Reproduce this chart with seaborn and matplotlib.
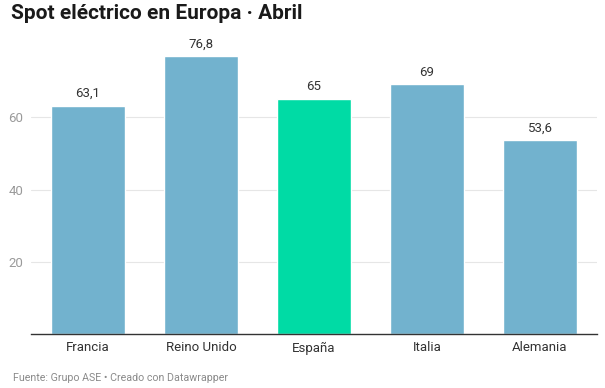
import matplotlib
matplotlib.use("Agg")
import matplotlib.pyplot as plt
import seaborn as sns
import pandas as pd

categories = ["Francia", "Reino Unido", "España", "Italia", "Alemania"]
values = [63.1, 76.8, 65, 69, 53.6]
value_labels = ["63,1", "76,8", "65", "69", "53,6"]
colors = ["#72b2ce", "#72b2ce", "#00dba5", "#72b2ce", "#72b2ce"]
yticks = [20, 40, 60]

sns.set_theme(style="white")
plt.rcParams['font.family'] = ['Roboto', 'DejaVu Sans']

df = pd.DataFrame({"pais": categories, "valor": values})

fig = plt.figure(figsize=(6.05, 3.88), dpi=100)
ax = fig.add_axes([0.052, 0.138, 0.934, 0.747])
sns.barplot(data=df, x="pais", y="valor", hue="pais", palette=colors,
            legend=False, width=0.655, ax=ax, saturation=1)
ax.set_ylim(0, 80)
ax.set_xlim(-0.5, 4.5)
ax.set_yticks(yticks)
ax.set_yticklabels([str(t) for t in yticks], color="#9a9a9a", fontsize=9.5)
ax.tick_params(axis="y", length=0, pad=6)
ax.tick_params(axis="x", length=0, pad=5, labelsize=9.5, labelcolor="#333333")
for t in yticks:
    ax.axhline(t, color="#e6e6e6", lw=0.8, zorder=0)
for s in ["top", "right", "left"]:
    ax.spines[s].set_visible(False)
ax.spines["bottom"].set_color("#333333")
ax.spines["bottom"].set_linewidth(1.0)
ax.set_xlabel("")
ax.set_ylabel("")
for i, (v, lab) in enumerate(zip(values, value_labels)):
    ax.text(i, v + 1.6, lab, ha="center", va="bottom", fontsize=9.5, color="#333333")

fig.text(0.019, 0.99, "Spot eléctrico en Europa · Abril", fontsize=15, fontweight="bold",
         color="#1a1a1a", ha="left", va="top")
fig.text(0.021, 0.027, "Fuente: Grupo ASE • Creado con Datawrapper", fontsize=7.7,
         color="#8a8a8a", ha="left", va="center")
fig.savefig("out.png", dpi=100)
